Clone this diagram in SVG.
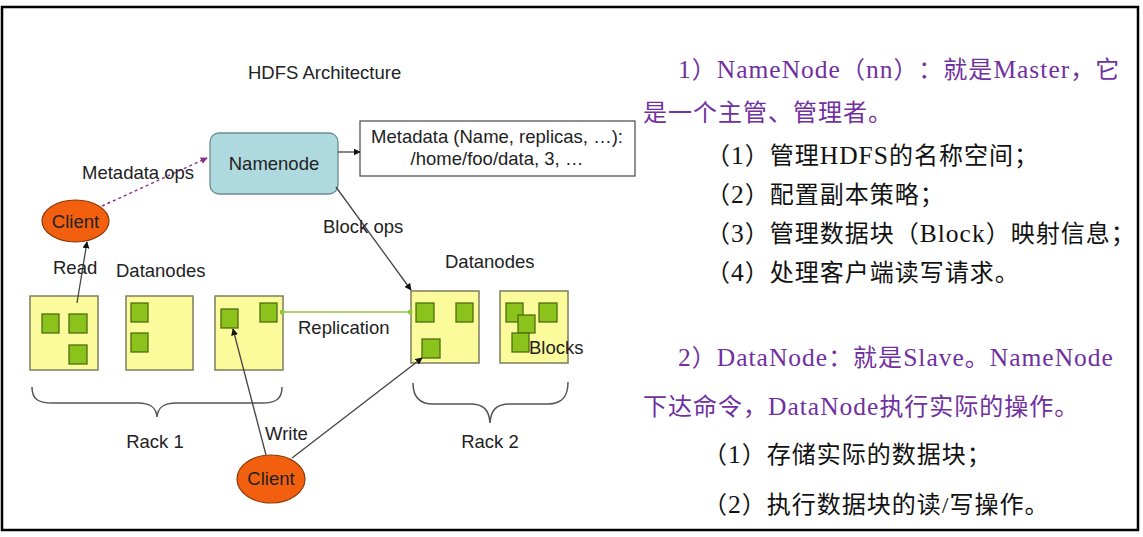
<svg xmlns="http://www.w3.org/2000/svg" width="1143" height="537" viewBox="0 0 1143 537">
<defs>
<style>
.lbl{font-family:"Liberation Sans",Arial,sans-serif;font-size:18.5px;fill:#222}
.dn{fill:#fbfb9c;stroke:#7d7d60;stroke-width:1.5}
.blk{fill:#8cc21c;stroke:#4d6e10;stroke-width:1.3}
.cl{fill:#f2600f;stroke:#8a3a08;stroke-width:1.2}
.ln{fill:none;stroke:#444;stroke-width:1.3}
.brace{fill:none;stroke:#555;stroke-width:1.5}
.cn{font-family:"Liberation Serif","Noto Sans CJK SC",sans-serif;font-size:24px;text-spacing-trim:space-all;letter-spacing:1px}
.lt{font-size:25.5px}
.pur{fill:#7030a0}
.blkt{fill:#111}
</style>
<marker id="arr" viewBox="0 0 10 10" refX="9" refY="5" markerWidth="7" markerHeight="7" orient="auto" markerUnits="userSpaceOnUse">
<path d="M0,0 L10,5 L0,10 z" fill="#111"/>
</marker>
<marker id="arrP" viewBox="0 0 10 10" refX="9" refY="5" markerWidth="7" markerHeight="7" orient="auto" markerUnits="userSpaceOnUse">
<path d="M0,0 L10,5 L0,10 z" fill="#8a2d8a"/>
</marker>
<marker id="dotG" viewBox="0 0 10 10" refX="5" refY="5" markerWidth="5" markerHeight="5" markerUnits="userSpaceOnUse">
<circle cx="5" cy="5" r="5" fill="#8cc63f"/>
</marker>
</defs>
<rect x="0" y="0" width="1143" height="537" fill="#fff"/>
<rect x="2" y="7" width="1136" height="523" fill="none" stroke="#000" stroke-width="2.5"/>

<text class="lbl" x="248" y="79">HDFS Architecture</text>

<g id="namenode">
<rect x="210" y="133" width="128" height="61" rx="9" fill="#aed9df" stroke="#6a8c92" stroke-width="1.3"/>
<text class="lbl" x="274" y="170" text-anchor="middle">Namenode</text>
</g>

<g id="metadata">
<rect x="360" y="121" width="275" height="55" fill="#fff" stroke="#555" stroke-width="1.3"/>
<text class="lbl" x="497" y="143" text-anchor="middle">Metadata (Name, replicas, …):</text>
<text class="lbl" x="497" y="165" text-anchor="middle">/home/foo/data, 3, …</text>
</g>

<g id="client1">
<ellipse class="cl" cx="75.5" cy="221" rx="33.5" ry="21"/>
<text class="lbl" x="75.5" y="228" text-anchor="middle">Client</text>
</g>

<g id="client2">
<ellipse class="cl" cx="271" cy="479" rx="34" ry="24"/>
<text class="lbl" x="271" y="485" text-anchor="middle">Client</text>
</g>

<g id="rack1">
<text class="lbl" x="116" y="277">Datanodes</text>
<rect class="dn" x="30" y="296" width="68" height="74"/>
<rect class="blk" x="42" y="314" width="17" height="19"/>
<rect class="blk" x="69" y="314" width="18" height="19"/>
<rect class="blk" x="69" y="345" width="18" height="19"/>
<rect class="dn" x="126" y="296" width="67" height="74"/>
<rect class="blk" x="131" y="303" width="17" height="19"/>
<rect class="blk" x="131" y="333" width="17" height="19"/>
<rect class="dn" x="215" y="296" width="68" height="74"/>
<rect class="blk" x="221" y="309" width="17" height="19"/>
<rect class="blk" x="260" y="303" width="17" height="19"/>
<path class="brace" d="M32,387 C32,399 38,403 52,403 L138,403 C150,403 156,407 157,417 C158,407 164,403 176,403 L262,403 C276,403 282,399 282,387"/>
<text class="lbl" x="155" y="448" text-anchor="middle">Rack 1</text>
</g>

<g id="rack2">
<text class="lbl" x="445" y="268">Datanodes</text>
<rect class="dn" x="411" y="291" width="68" height="72"/>
<rect class="blk" x="416" y="303" width="18" height="19"/>
<rect class="blk" x="456" y="303" width="17" height="19"/>
<rect class="blk" x="422" y="339" width="18" height="19"/>
<rect class="dn" x="500" y="291" width="68" height="72"/>
<rect class="blk" x="506" y="303" width="17" height="19"/>
<rect class="blk" x="539" y="303" width="18" height="19"/>
<rect class="blk" x="518" y="315" width="17" height="18"/>
<rect class="blk" x="512" y="333" width="17" height="19"/>
<text class="lbl" x="529" y="354">Blocks</text>
<path class="brace" d="M413,383 C413,397 419,404 433,404 L470,404 C484,404 489,410 490,423 C491,410 496,404 510,404 L548,404 C562,404 568,397 568,382"/>
<text class="lbl" x="490" y="448" text-anchor="middle">Rack 2</text>
</g>

<g id="connectors">
<line x1="102" y1="206" x2="207" y2="158" stroke="#8a2d8a" stroke-width="1.4" stroke-dasharray="3,3" marker-end="url(#arrP)"/>
<line class="ln" x1="77" y1="303" x2="87" y2="242" marker-end="url(#arr)"/>
<line class="ln" x1="338" y1="152" x2="360" y2="152" marker-end="url(#arr)"/>
<line class="ln" x1="336" y1="187" x2="411" y2="290" marker-end="url(#arr)"/>
<line x1="282" y1="312" x2="410" y2="312" stroke="#8cc63f" stroke-width="1.5" marker-start="url(#dotG)" marker-end="url(#dotG)"/>
<line class="ln" x1="266" y1="455" x2="233" y2="329" marker-end="url(#arr)"/>
<line class="ln" x1="292" y1="458" x2="422" y2="358" marker-end="url(#arr)"/>
<text class="lbl" x="82" y="179">Metadata ops</text>
<text class="lbl" x="53" y="274">Read</text>
<text class="lbl" x="323" y="233">Block ops</text>
<text class="lbl" x="298" y="334">Replication</text>
<text class="lbl" x="265" y="440">Write</text>
</g>

<g id="namenode-text">
<text class="cn pur" x="678" y="78"><tspan class="lt">1</tspan>）<tspan class="lt">NameNode</tspan>（<tspan class="lt">nn</tspan>）：就是<tspan class="lt">Master</tspan>，它</text>
<text class="cn pur" x="643" y="121">是一个主管、管理者。</text>
<text class="cn blkt" x="706" y="164">（<tspan class="lt">1</tspan>）管理<tspan class="lt">HDFS</tspan>的名称空间；</text>
<text class="cn blkt" x="706" y="203">（<tspan class="lt">2</tspan>）配置副本策略；</text>
<text class="cn blkt" x="706" y="242">（<tspan class="lt">3</tspan>）管理数据块（<tspan class="lt">Block</tspan>）映射信息；</text>
<text class="cn blkt" x="706" y="281">（<tspan class="lt">4</tspan>）处理客户端读写请求。</text>
</g>

<g id="datanode-text">
<text class="cn pur" x="678" y="366"><tspan class="lt">2</tspan>）<tspan class="lt">DataNode</tspan>：就是<tspan class="lt">Slave</tspan>。<tspan class="lt">NameNode</tspan></text>
<text class="cn pur" x="643" y="415">下达命令，<tspan class="lt">DataNode</tspan>执行实际的操作。</text>
<text class="cn blkt" x="703" y="463">（<tspan class="lt">1</tspan>）存储实际的数据块；</text>
<text class="cn blkt" x="703" y="513">（<tspan class="lt">2</tspan>）执行数据块的读/写操作。</text>
</g>
</svg>
